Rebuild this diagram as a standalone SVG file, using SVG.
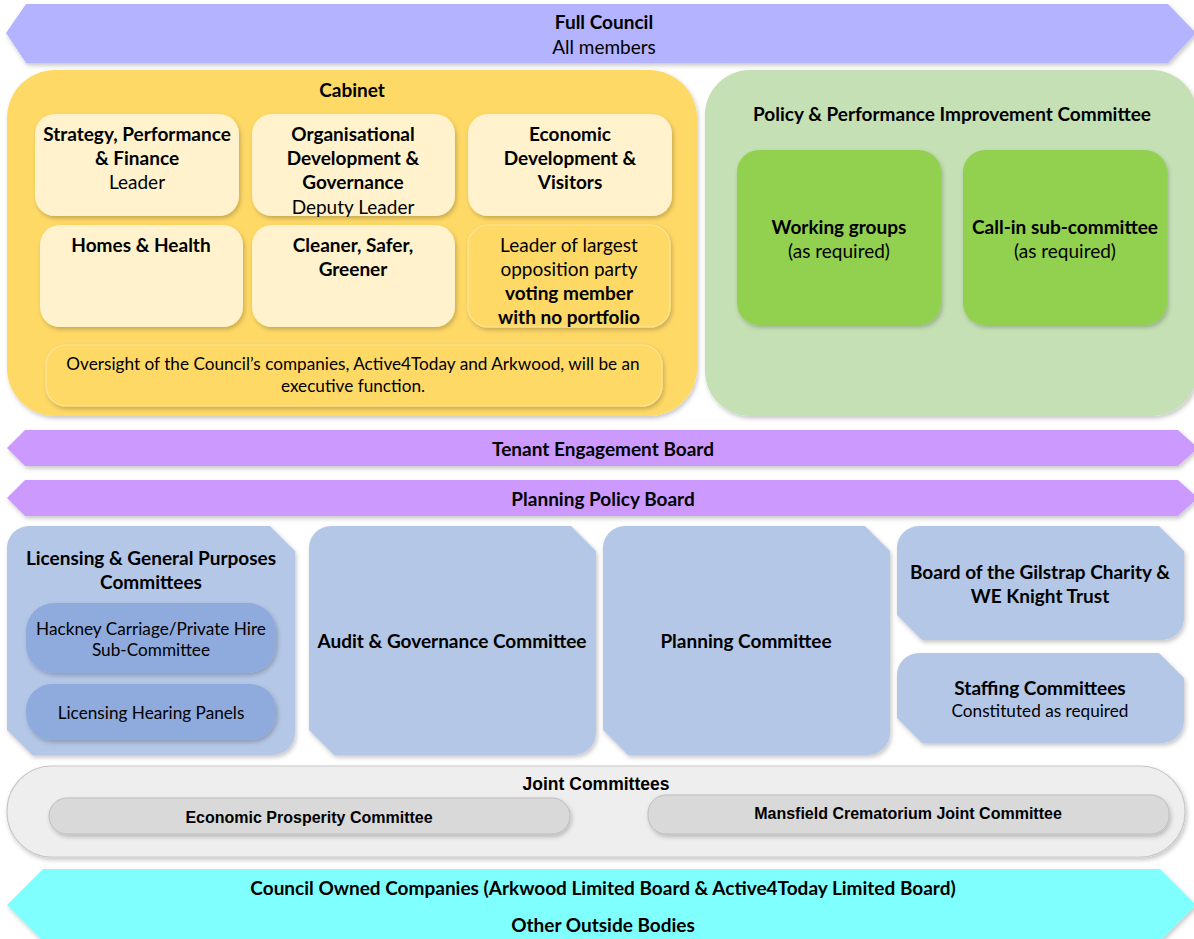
<svg xmlns="http://www.w3.org/2000/svg" width="1194" height="939" viewBox="0 0 1194 939">
<defs>
<filter id="sh" x="-10%" y="-10%" width="120%" height="130%">
<feDropShadow dx="1.5" dy="2.5" stdDeviation="2" flood-color="#000" flood-opacity="0.22"/>
</filter>
<style>
text{font-family:Lato,"Liberation Sans",sans-serif;fill:#000;text-anchor:middle;dominant-baseline:central;font-size:19px}
.b{font-weight:bold}
.s{font-size:17.2px}
.cond{font-family:"Liberation Sans",sans-serif}
.band{fill:#b3b3ff;filter:url(#sh)}
.purple{fill:#cc99ff;filter:url(#sh)}
.cyan{fill:#80ffff;filter:url(#sh)}
.cab{fill:#ffd966;filter:url(#sh)}
.cabin{fill:#fff2cc;filter:url(#sh)}
.cabline{fill:#ffd966;stroke:#ffe699;stroke-width:1.2;filter:url(#sh)}
.pgreen{fill:#c5e0b4;filter:url(#sh)}
.green{fill:#92d050;filter:url(#sh)}
.blue{fill:#b4c7e7;filter:url(#sh)}
.dblue{fill:#8faadc;filter:url(#sh)}
.joint{fill:#eeeeee;stroke:#c9c9c9;stroke-width:1.2;filter:url(#sh)}
.jin{fill:#d9d9d9;stroke:#bdbdbd;stroke-width:1;filter:url(#sh)}
</style>
</defs>
<rect width="1194" height="939" fill="#ffffff"/>

<g id="full-council">
<path class="band" d="M26,4 L1168,4 L1196,33 L1168,63 L26,63 L6,33 Z"/>
<text x="604" y="21" class="b">Full Council</text>
<text x="604" y="46">All members</text>
</g>

<g id="cabinet">
<rect class="cab" x="7" y="70" width="690" height="346" rx="48"/>
<text x="352" y="89" class="b">Cabinet</text>
</g>
<g id="strategy">
<rect class="cabin" x="35" y="114" width="204" height="102" rx="20"/>
<text x="137" y="133" class="b">Strategy, Performance</text>
<text x="137" y="157" class="b">&amp; Finance</text>
<text x="137" y="181">Leader</text>
</g>
<g id="organisational">
<rect class="cabin" x="252" y="114" width="203" height="102" rx="20"/>
<text x="353" y="133" class="b">Organisational</text>
<text x="353" y="157" class="b">Development &amp;</text>
<text x="353" y="181" class="b">Governance</text>
<text x="353" y="206">Deputy Leader</text>
</g>
<g id="economic">
<rect class="cabin" x="468" y="114" width="204" height="102" rx="20"/>
<text x="570" y="133" class="b">Economic</text>
<text x="570" y="157" class="b">Development &amp;</text>
<text x="570" y="181" class="b">Visitors</text>
</g>
<g id="homes">
<rect class="cabin" x="40" y="225" width="203" height="102" rx="20"/>
<text x="141" y="244" class="b">Homes &amp; Health</text>
</g>
<g id="cleaner">
<rect class="cabin" x="252" y="225" width="203" height="102" rx="20"/>
<text x="353" y="244" class="b">Cleaner, Safer,</text>
<text x="353" y="268" class="b">Greener</text>
</g>
<g id="opposition">
<rect class="cabline" x="468" y="225" width="202" height="102" rx="20"/>
<text x="569" y="244">Leader of largest</text>
<text x="569" y="268">opposition party</text>
<text x="569" y="292" class="b">voting member</text>
<text x="569" y="316" class="b">with no portfolio</text>
</g>
<g id="oversight">
<rect class="cabline" x="46" y="345" width="616" height="61" rx="20"/>
<text x="353" y="363" class="s">Oversight of the Council’s companies, Active4Today and Arkwood, will be an</text>
<text x="353" y="385" class="s">executive function.</text>
</g>

<g id="ppic">
<rect class="pgreen" x="705" y="70" width="492" height="346" rx="45"/>
<text x="952" y="113" class="b">Policy &amp; Performance Improvement Committee</text>
</g>
<g id="working-groups">
<rect class="green" x="737" y="150" width="204" height="175" rx="22"/>
<text x="839" y="226" class="b">Working groups</text>
<text x="839" y="250">(as required)</text>
</g>
<g id="call-in">
<rect class="green" x="963" y="150" width="204" height="175" rx="22"/>
<text x="1065" y="226" class="b">Call-in sub-committee</text>
<text x="1065" y="250">(as required)</text>
</g>

<g id="tenant">
<path class="purple" d="M25,430 L1178,430 L1198,448 L1178,466 L25,466 L7,448 Z"/>
<text x="603" y="448" class="b">Tenant Engagement Board</text>
</g>
<g id="planning-policy">
<path class="purple" d="M25,480 L1178,480 L1198,498 L1178,516 L25,516 L7,498 Z"/>
<text x="603" y="498" class="b">Planning Policy Board</text>
</g>

<g id="licensing">
<path class="blue" d="M7,548 A22,22 0 0 1 29,526 L270,526 L295,551 L295,733 A22,22 0 0 1 273,755 L32,755 L7,730 Z"/>
<text x="151" y="557" class="b">Licensing &amp; General Purposes</text>
<text x="151" y="581" class="b">Committees</text>
</g>
<g id="hackney">
<rect class="dblue" x="26" y="603" width="250" height="70" rx="28"/>
<text x="151" y="628" class="s">Hackney Carriage/Private Hire</text>
<text x="151" y="649" class="s">Sub-Committee</text>
</g>
<g id="hearing">
<rect class="dblue" x="26" y="684" width="250" height="56" rx="26"/>
<text x="151" y="712" class="s">Licensing Hearing Panels</text>
</g>
<g id="audit">
<path class="blue" d="M309,548 A22,22 0 0 1 331,526 L571,526 L596,551 L596,733 A22,22 0 0 1 574,755 L334,755 L309,730 Z"/>
<text x="452" y="640" class="b">Audit &amp; Governance Committee</text>
</g>
<g id="planning-committee">
<path class="blue" d="M603,548 A22,22 0 0 1 625,526 L865,526 L890,551 L890,733 A22,22 0 0 1 868,755 L628,755 L603,730 Z"/>
<text x="746" y="640" class="b">Planning Committee</text>
</g>
<g id="gilstrap">
<path class="blue" d="M897,548 A22,22 0 0 1 919,526 L1159,526 L1184,551 L1184,618 A22,22 0 0 1 1162,640 L922,640 L897,615 Z"/>
<text x="1040" y="571" class="b">Board of the Gilstrap Charity &amp;</text>
<text x="1040" y="595" class="b">WE Knight Trust</text>
</g>
<g id="staffing">
<path class="blue" d="M897,675 A22,22 0 0 1 919,653 L1159,653 L1184,678 L1184,721 A22,22 0 0 1 1162,743 L922,743 L897,718 Z"/>
<text x="1040" y="687" class="b">Staffing Committees</text>
<text x="1040" y="710" class="s">Constituted as required</text>
</g>

<g id="joint">
<rect class="joint" x="7" y="766" width="1178" height="91" rx="45"/>
<text x="596" y="784" class="b cond" style="font-size:17.5px">Joint Committees</text>
</g>
<g id="economic-prosperity">
<rect class="jin" x="49" y="798" width="521" height="36" rx="18"/>
<text x="309" y="817" class="b cond" style="font-size:16px">Economic Prosperity Committee</text>
</g>
<g id="crematorium">
<rect class="jin" x="648" y="795" width="521" height="39" rx="18"/>
<text x="908" y="813" class="b cond" style="font-size:16px">Mansfield Crematorium Joint Committee</text>
</g>

<g id="outside">
<path class="cyan" d="M43,869 L1160,869 L1196,905 L1160,941 L43,941 L7,905 Z"/>
<text x="603" y="887" class="b">Council Owned Companies (Arkwood Limited Board &amp; Active4Today Limited Board)</text>
<text x="603" y="924" class="b">Other Outside Bodies</text>
</g>

<g id="connectors"></g>
</svg>
